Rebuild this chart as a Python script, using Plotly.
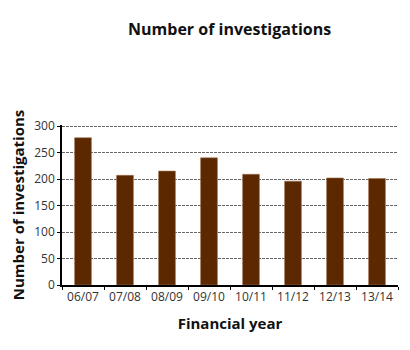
import plotly.graph_objects as go

categories = ["06/07", "07/08", "08/09", "09/10", "10/11", "11/12", "12/13", "13/14"]
investigations = [278, 207, 215, 240, 209, 196, 202, 201]
y_ticks = [0, 50, 100, 150, 200, 250, 300]

fig = go.Figure(go.Bar(
    x=categories, y=investigations,
    marker=dict(color="#5c2800", line=dict(color="#a07050", width=0.6)),
))

fig.update_layout(
    width=410, height=350,
    margin=dict(l=62, r=12, t=125, b=65),
    paper_bgcolor="white", plot_bgcolor="white",
    bargap=0.6,
    showlegend=False,
    title=dict(text="<b>Number of investigations</b>", x=0.56, xanchor="center",
               y=0.915, yanchor="middle",
               font=dict(family="Open Sans", size=16, color="#111")),
    font=dict(family="Open Sans", color="#222"),
)
fig.update_xaxes(
    showline=True, linecolor="black", linewidth=1.5,
    ticks="outside", tickson="boundaries", ticklen=3, tickcolor="black",
    tickfont=dict(size=12, color="#333"),
    title=dict(text="<b>Financial year</b>", font=dict(size=15, color="#111"), standoff=14),
)
fig.update_yaxes(
    range=[0, 302], tickvals=y_ticks,
    showline=True, linecolor="black", linewidth=1.5,
    ticks="outside", ticklen=3, tickcolor="black",
    showgrid=True, gridcolor="#666", griddash="3px,1px", gridwidth=0.8,
    zeroline=False,
    tickfont=dict(size=12, color="#333"),
    title=dict(text="<b>Number of investigations</b>", font=dict(size=15, color="#111"), standoff=6),
)

fig.write_html("out.html")
